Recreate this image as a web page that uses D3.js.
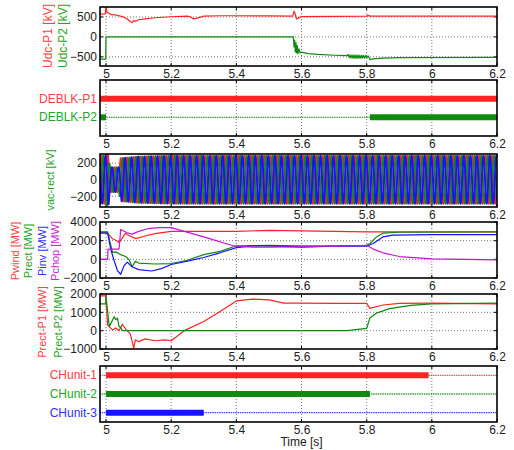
<!DOCTYPE html>
<html>
<head>
<meta charset="utf-8">
<script src="https://cdn.jsdelivr.net/npm/d3@7"></script>
<style>
  body { margin: 0; background: #fff; }
  text { font-family: "Liberation Sans", Arial, sans-serif; }
</style>
</head>
<body>
<script>
// time axis
const timeTicks = [5, 5.2, 5.4, 5.6, 5.8, 6, 6.2];

// panel 1 : dc voltages [kV]
const udcTicks = [500, 0, -500];
const udcP1 = [[4.98,570],[4.998,580],[5.0,740],[5.003,620],[5.008,600],[5.015,560],[5.03,550],[5.05,510],[5.065,450],[5.075,380],[5.08,360],[5.085,410],[5.09,390],[5.1,430],[5.12,450],[5.15,480],[5.2,505],[5.25,520],[5.26,500],[5.268,450],[5.28,470],[5.3,520],[5.35,530],[5.4,530],[5.5,525],[5.573,520],[5.577,640],[5.58,590],[5.585,450],[5.59,470],[5.6,510],[5.7,515],[5.8,520],[5.803,545],[5.81,520],[6.2,520]];
const udcP2 = [[4.98,-560],[4.999,-560],[5.0,0],[5.575,0],[5.577,-250],[5.579,-80],[5.581,-380],[5.583,-150],[5.585,-400],[5.587,-220],[5.589,-420],[5.592,-300],[5.595,-400],[5.6,-380],[5.62,-420],[5.65,-440],[5.7,-460],[5.74,-470],[5.743,-440],[5.746,-520],[5.749,-450],[5.752,-530],[5.755,-450],[5.758,-535],[5.761,-455],[5.764,-540],[5.767,-450],[5.77,-540],[5.773,-455],[5.776,-540],[5.779,-460],[5.782,-535],[5.785,-460],[5.788,-530],[5.791,-465],[5.794,-530],[5.797,-470],[5.8,-520],[5.805,-480],[5.81,-570],[5.82,-550],[5.85,-530],[5.9,-520],[6.2,-515]];

// panel 2 : deblock states (thick = on)
const deblkNames = ["DEBLK-P1", "DEBLK-P2"];
const deblkOn = [[[4.98, 6.2]], [[4.98, 5.0], [5.81, 6.2]]];

// panel 3 : ac voltage envelope [t, kV amplitude], 50 Hz three-phase
const vacTicks = [200, 0, -200];
const vacEnvelope = [[4.98,290],[5.0,290],[5.003,340],[5.008,300],[5.012,150],[5.04,150],[5.045,260],[5.1,280],[5.2,290],[6.2,290]];
const vacFreq = 50;

// panel 4 : powers [MW]
const powTicks = [4000, 2000, 0, -2000];
const pwind = [[4.98,2900],[5.0,2900],[5.01,2600],[5.02,2200],[5.03,2050],[5.04,1800],[5.05,2300],[5.06,2800],[5.07,2550],[5.09,2250],[5.1,2300],[5.12,2500],[5.15,2750],[5.2,3000],[5.3,3000],[5.4,3000],[5.5,3100],[5.6,3050],[5.7,3000],[5.8,2950],[5.85,2950],[5.9,2950],[6.0,2950],[6.2,2950]];
const prect = [[4.98,2950],[5.005,2950],[5.01,2200],[5.02,750],[5.03,800],[5.045,500],[5.06,300],[5.07,0],[5.08,-800],[5.09,-200],[5.1,-400],[5.15,-500],[5.2,-450],[5.25,-100],[5.3,500],[5.35,850],[5.4,1450],[5.5,1500],[5.6,1450],[5.7,1450],[5.8,1500],[5.81,1700],[5.83,2400],[5.85,2800],[5.9,2900],[6.2,2950]];
const pinv = [[4.98,2800],[5.005,2800],[5.015,1000],[5.025,-150],[5.035,-1200],[5.045,-1600],[5.055,-700],[5.065,-300],[5.08,-800],[5.1,-1100],[5.14,-1250],[5.17,-1000],[5.2,-550],[5.25,-200],[5.3,200],[5.35,700],[5.4,1250],[5.45,1450],[5.5,1450],[5.6,1300],[5.7,1400],[5.8,1400],[5.82,1700],[5.85,2400],[5.88,2600],[6.0,2650],[6.2,2650]];
const pchop = [[4.98,0],[5.005,0],[5.006,1100],[5.04,1100],[5.045,3200],[5.065,2850],[5.08,2700],[5.1,3000],[5.13,3300],[5.16,3400],[5.2,3400],[5.3,2400],[5.39,1450],[5.45,1300],[5.5,1300],[5.6,1350],[5.7,1400],[5.8,1500],[5.82,1100],[5.85,700],[5.9,300],[6.0,50],[6.2,-50]];

// panel 5 : rectifier powers [MW]
const prTicks = [2000, 1000, 0, -1000];
const prectP1 = [[4.98,1900],[4.999,1900],[5.005,300],[5.02,40],[5.03,150],[5.04,0],[5.05,350],[5.06,100],[5.075,-200],[5.085,-950],[5.09,-500],[5.1,-600],[5.12,-450],[5.15,-550],[5.18,-500],[5.2,-550],[5.24,0],[5.3,500],[5.35,1050],[5.4,1620],[5.45,1720],[5.5,1680],[5.545,1500],[5.6,1500],[5.7,1490],[5.8,1490],[5.81,1220],[5.85,1400],[5.9,1490],[6.0,1500],[6.2,1460]];
const prectP2 = [[4.98,1460],[4.999,1460],[5.0,1850],[5.01,220],[5.025,760],[5.03,600],[5.035,680],[5.04,220],[5.045,180],[5.05,0],[5.74,0],[5.8,130],[5.81,690],[5.83,960],[5.87,1200],[5.935,1380],[6.0,1460],[6.2,1500]];

// panel 6 : chopper units (thick = on)
const chNames = ["CHunit-1", "CHunit-2", "CHunit-3"];
const chOn = [[[5.0, 5.99]], [[5.0, 5.81]], [[5.0, 5.3]]];

const RED = "#ff2424", GREEN = "#0f8a0f", BLUE = "#1414ff", MAG = "#c814d2";
const RED_T = "#ff4040", GREEN_T = "#26a326", BLUE_T = "#3030ff", MAG_T = "#cc22dd";

const svg = d3.select("body").append("svg")
    .attr("width", 514)
    .attr("height", 450);

const x = d3.scaleLinear().domain([4.9815, 6.2]).range([100, 497]);
const line = y => d3.line().x(d => x(d[0])).y(d => y(d[1]));

let clipId = 0;

// grid, ticks labels, returns group clipped to the plot area
function makePanel(top, bottom, y, yTicks, hGrid, yIsBand) {
    const g = svg.append("g");
    const id = "clip" + (clipId++);
    svg.append("clipPath").attr("id", id).append("rect")
        .attr("x", 100).attr("y", top).attr("width", 397).attr("height", bottom - top);

    g.selectAll(".vg").data(timeTicks.slice(0, -1)).enter().append("line")
        .attr("x1", d => x(d)).attr("x2", d => x(d))
        .attr("y1", top).attr("y2", bottom)
        .attr("stroke", "#777").attr("stroke-dasharray", "1,2");

    if (hGrid) {
        g.selectAll(".hg").data(hGrid).enter().append("line")
            .attr("x1", 100).attr("x2", 497)
            .attr("y1", d => y(d)).attr("y2", d => y(d))
            .attr("stroke", "#777").attr("stroke-dasharray", "1,2");
    }

    const xa = g.append("g").attr("transform", `translate(0,${bottom})`)
        .call(d3.axisBottom(x).tickValues(timeTicks).tickSize(0).tickPadding(3).tickFormat(d3.format("")));
    xa.select(".domain").remove();
    xa.selectAll("text").attr("font-size", 12).attr("fill", "#222")
        .attr("font-family", "Liberation Sans, Arial, sans-serif");

    if (!yIsBand) {
        const ya = g.append("g").attr("transform", "translate(100,0)")
            .call(d3.axisLeft(y).tickValues(yTicks).tickSize(0).tickPadding(3).tickFormat(d3.format("d")));
        ya.select(".domain").remove();
        ya.selectAll("text").attr("font-size", 12).attr("fill", "#222")
            .attr("font-family", "Liberation Sans, Arial, sans-serif");

        // inward ticks on left/right
        yTicks.forEach(v => {
            g.append("line").attr("x1", 100).attr("x2", 103).attr("y1", y(v)).attr("y2", y(v)).attr("stroke", "#000");
            g.append("line").attr("x1", 494).attr("x2", 497).attr("y1", y(v)).attr("y2", y(v)).attr("stroke", "#000");
        });
    }

    timeTicks.forEach(t => {
        g.append("line").attr("x1", x(t)).attr("x2", x(t)).attr("y1", top).attr("y2", top + 3).attr("stroke", "#000");
        g.append("line").attr("x1", x(t)).attr("x2", x(t)).attr("y1", bottom - 3).attr("y2", bottom).attr("stroke", "#000");
    });

    const plot = g.append("g").attr("clip-path", `url(#${id})`);
    const frame = () => g.append("rect")
        .attr("x", 100).attr("y", top).attr("width", 397).attr("height", bottom - top)
        .attr("fill", "none").attr("stroke", "#000").attr("stroke-width", 1.6);
    return { plot, frame };
}

function yLabel(lines, cy, size) {
    lines.forEach(l => {
        svg.append("text")
            .attr("transform", `translate(${l.x},${cy}) rotate(-90)`)
            .attr("text-anchor", "middle")
            .attr("dominant-baseline", "central")
            .attr("font-size", size || 12)
            .attr("fill", l.c)
            .text(l.t);
    });
}

function drawSeries(plot, y, data, color, w) {
    plot.append("path").datum(data)
        .attr("d", line(y))
        .attr("fill", "none")
        .attr("stroke", color)
        .attr("stroke-width", w || 1.2)
        .attr("stroke-linejoin", "round");
}

function drawStates(plot, y, names, onSpans, colors) {
    names.forEach((n, i) => {
        plot.append("line")
            .attr("x1", x(4.98)).attr("x2", x(6.2))
            .attr("y1", y(n)).attr("y2", y(n))
            .attr("stroke", colors[i]).attr("stroke-width", 1.3)
            .attr("stroke-dasharray", "1.5,0.8").attr("opacity", 0.8);
        plot.selectAll(null).data(onSpans[i]).enter().append("line")
            .attr("x1", d => x(d[0])).attr("x2", d => x(d[1]))
            .attr("y1", y(n)).attr("y2", y(n))
            .attr("stroke", colors[i]).attr("stroke-width", 6);
    });
}

function bandLabels(y, names, colors) {
    names.forEach((n, i) => {
        svg.append("text")
            .attr("x", 97).attr("y", y(n))
            .attr("text-anchor", "end").attr("dominant-baseline", "central")
            .attr("font-size", 12).attr("fill", colors[i])
            .text(n);
    });
}

// ---- panel 1
const y1 = d3.scaleLinear().domain([-730, 750]).range([66, 7]);
const p1 = makePanel(7, 66, y1, udcTicks, udcTicks);
drawSeries(p1.plot, y1, udcP1, RED);
drawSeries(p1.plot, y1, udcP2, GREEN);
p1.frame();
yLabel([{ t: "Udc-P1 [kV]", c: RED_T, x: 48 }, { t: "Udc-P2 [kV]", c: GREEN_T, x: 63 }], 36, 12);

// ---- panel 2
const y2 = d3.scalePoint().domain(deblkNames).range([80, 136]).padding(1);
const p2 = makePanel(80, 136, y2, null, null, true);
drawStates(p2.plot, y2, deblkNames, deblkOn, [RED, GREEN]);
p2.frame();
bandLabels(y2, deblkNames, [RED_T, GREEN_T]);

// ---- panel 3
const y3 = d3.scaleLinear().domain([-330, 310]).range([207, 154]);
const p3 = makePanel(154, 207, y3, vacTicks, vacTicks);
const amp = d3.scaleLinear().domain(vacEnvelope.map(d => d[0])).range(vacEnvelope.map(d => d[1]));
const tGrid = d3.range(4.98, 6.2001, 0.0002);
[[RED, 0], [GREEN, -2 * Math.PI / 3], [BLUE, 2 * Math.PI / 3]].forEach(([c, ph]) => {
    const wave = tGrid.map(t => [t, amp(t) * Math.sin(2 * Math.PI * vacFreq * t + ph)]);
    drawSeries(p3.plot, y3, wave, c, 1.9);
});
p3.frame();
yLabel([{ t: "vac-rect [kV]", c: GREEN_T, x: 50 }], 180, 11);

// ---- panel 4
const y4 = d3.scaleLinear().domain([-2000, 4000]).range([278, 222]);
const p4 = makePanel(222, 278, y4, powTicks, [2000, 0]);
drawSeries(p4.plot, y4, pwind, RED);
drawSeries(p4.plot, y4, prect, GREEN);
drawSeries(p4.plot, y4, pinv, BLUE);
drawSeries(p4.plot, y4, pchop, MAG);
p4.frame();
yLabel([
    { t: "Pwind [MW]", c: RED_T, x: 15 },
    { t: "Prect [MW]", c: GREEN_T, x: 28 },
    { t: "Pinv [MW]", c: BLUE_T, x: 42 },
    { t: "Pchop [MW]", c: MAG_T, x: 55 }
], 251, 11);

// ---- panel 5
const y5 = d3.scaleLinear().domain([-1000, 2000]).range([349, 294]);
const p5 = makePanel(294, 349, y5, prTicks, [1000, 0]);
drawSeries(p5.plot, y5, prectP1, RED);
drawSeries(p5.plot, y5, prectP2, GREEN);
p5.frame();
yLabel([{ t: "Prect-P1 [MW]", c: RED_T, x: 42 }, { t: "Prect-P2 [MW]", c: GREEN_T, x: 58 }], 322, 11);

// ---- panel 6
const y6 = d3.scalePoint().domain(chNames).range([366, 422]).padding(0.5);
const p6 = makePanel(366, 422, y6, null, null, true);
drawStates(p6.plot, y6, chNames, chOn, [RED, GREEN, BLUE]);
p6.frame();
bandLabels(y6, chNames, [RED_T, GREEN_T, BLUE_T]);

svg.append("text")
    .attr("x", x(5.6)).attr("y", 446)
    .attr("text-anchor", "middle")
    .attr("font-size", 12).attr("fill", "#222")
    .text("Time [s]");
</script>
</body>
</html>
